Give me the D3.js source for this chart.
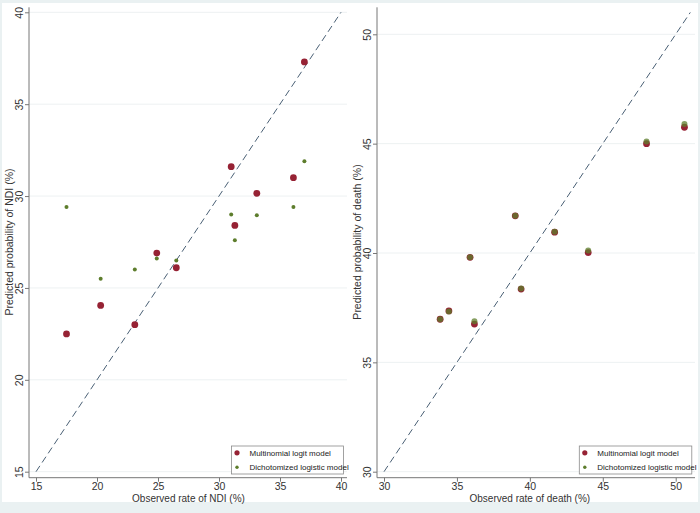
<!DOCTYPE html>
<html>
<head>
<meta charset="utf-8">
<script src="https://cdn.jsdelivr.net/npm/d3@7"></script>
<style>
  body { margin: 0; background: #eaf1f2; }
  svg { display: block; font-family: "Liberation Sans", Arial, sans-serif; }
</style>
</head>
<body>
<svg id="chart" width="700" height="513"></svg>
<script>
// observed vs predicted, NDI panel
var ndiObserved = [17.5, 20.3, 23.1, 24.9, 26.5, 31.0, 31.3, 33.1, 36.1, 37.0];
var ndiMultinomial = [22.5, 24.05, 23.0, 26.9, 26.1, 31.6, 28.4, 30.15, 31.0, 37.3];
var ndiDichotomized = [29.4, 25.5, 26.0, 26.6, 26.5, 29.0, 27.6, 28.95, 29.4, 31.9];
var ndiTicks = [15, 20, 25, 30, 35, 40];

// death panel
var deathObserved = [33.85, 34.45, 35.9, 36.2, 39.0, 39.4, 41.7, 44.0, 48.0, 50.6];
var deathMultinomial = [36.97, 37.35, 39.8, 36.75, 41.7, 38.35, 40.95, 40.02, 45.0, 45.75];
var deathDichotomized = [36.97, 37.32, 39.8, 36.88, 41.7, 38.38, 40.97, 40.12, 45.1, 45.9];
var deathTicks = [30, 35, 40, 45, 50];

var seriesNames = ["Multinomial logit model", "Dichotomized logistic model"];
var red = "#962234", green = "#5d7d2c";

var svg = d3.select("#chart");

svg.append("rect")
    .attr("x", 2).attr("y", 3).attr("width", 696).attr("height", 499)
    .attr("fill", "#fff");

function drawPanel(p) {
    var g = svg.append("g");
    var x = d3.scaleLinear().domain(p.xDomain).range(p.xRange);
    var y = d3.scaleLinear().domain(p.yDomain).range(p.yRange);
    var x0 = p.xRange[0] - 7, yBase = 477.7;

    // gridlines
    g.selectAll(".grid").data(p.ticks).enter().append("line")
        .attr("x1", x0).attr("x2", p.right)
        .attr("y1", function (d) { return y(d); })
        .attr("y2", function (d) { return y(d); })
        .attr("stroke", "#edf1f2").attr("stroke-width", 1);

    // y axis, labels rotated like stata does
    var yAxis = g.append("g").attr("transform", "translate(" + x0 + ",0)")
        .call(d3.axisLeft(y).tickValues(p.ticks).tickSize(4).tickSizeOuter(0));
    yAxis.select(".domain").remove();
    yAxis.selectAll(".tick line").attr("stroke", "#777");
    yAxis.selectAll(".tick text")
        .attr("font-size", 10.5).attr("fill", "#333").attr("font-family", null)
        .attr("x", 0).attr("y", 0).attr("dy", "0").attr("text-anchor", "middle")
        .attr("transform", "translate(-6,0) rotate(-90)");
    g.append("line").attr("x1", x0).attr("x2", x0).attr("y1", 7.3).attr("y2", yBase)
        .attr("stroke", "#777");

    // x axis
    var xAxis = g.append("g").attr("transform", "translate(0," + yBase + ")")
        .call(d3.axisBottom(x).tickValues(p.ticks).tickSize(4).tickSizeOuter(0));
    xAxis.select(".domain").remove();
    xAxis.selectAll(".tick line").attr("stroke", "#777");
    xAxis.selectAll(".tick text").attr("font-size", 10.5).attr("fill", "#333")
        .attr("font-family", null).attr("dy", "0").attr("y", 12.5);
    g.append("line").attr("x1", x0).attr("x2", p.right).attr("y1", yBase).attr("y2", yBase)
        .attr("stroke", "#777");

    // titles
    g.append("text").attr("x", (p.xRange[0] + p.xRange[1]) / 2).attr("y", 502)
        .attr("text-anchor", "middle").attr("font-size", 10).attr("fill", "#333")
        .text(p.xTitle);
    g.append("text")
        .attr("transform", "translate(" + (x0 - 16) + ",242) rotate(-90)")
        .attr("text-anchor", "middle").attr("font-size", 10.5).attr("fill", "#333")
        .text(p.yTitle);

    // 45 degree reference line
    g.append("line")
        .attr("x1", x(p.xDomain[0])).attr("y1", y(p.xDomain[0]))
        .attr("x2", x(p.diagEnd)).attr("y2", y(p.diagEnd))
        .attr("stroke", "#4a6075").attr("stroke-width", 1)
        .attr("stroke-dasharray", "7,4");

    // points
    g.selectAll(".m").data(p.obs).enter().append("circle")
        .attr("cx", function (d) { return x(d); })
        .attr("cy", function (d, i) { return y(p.multi[i]); })
        .attr("r", 3.4).attr("fill", red);
    g.selectAll(".d").data(p.obs).enter().append("circle")
        .attr("cx", function (d) { return x(d); })
        .attr("cy", function (d, i) { return y(p.dich[i]); })
        .attr("r", p.dichR).attr("fill", green).attr("fill-opacity", p.dichOpacity);

    // legend
    var lg = g.append("g").attr("transform", "translate(" + p.legendX + ",446)");
    lg.append("rect").attr("width", p.legendW).attr("height", 28)
        .attr("fill", "#fff").attr("stroke", "#8a8a8a").attr("stroke-width", 0.8);
    lg.append("circle").attr("cx", 5.5).attr("cy", 6.8).attr("r", 2.6).attr("fill", red);
    lg.append("circle").attr("cx", 5.5).attr("cy", 21.3).attr("r", 1.7).attr("fill", green);
    lg.selectAll("text").data(seriesNames).enter().append("text")
        .attr("x", 18).attr("y", function (d, i) { return 9.8 + i * 14.5; })
        .attr("font-size", 8).attr("fill", "#222")
        .text(function (d) { return d; });
}

drawPanel({
    xDomain: [15, 40], xRange: [36, 341], yDomain: [15, 40], yRange: [471.7, 12.3],
    right: 347, ticks: ndiTicks, diagEnd: 40,
    obs: ndiObserved, multi: ndiMultinomial, dich: ndiDichotomized,
    dichR: 2, dichOpacity: 1,
    xTitle: "Observed rate of NDI (%)", yTitle: "Predicted probability of NDI (%)",
    legendX: 231.5, legendW: 112
});

drawPanel({
    xDomain: [30, 50], xRange: [384, 675.7], yDomain: [30, 50], yRange: [471.7, 34.3],
    right: 695, ticks: deathTicks, diagEnd: 51,
    obs: deathObserved, multi: deathMultinomial, dich: deathDichotomized,
    dichR: 3, dichOpacity: 0.75,
    xTitle: "Observed rate of death (%)", yTitle: "Predicted probability of death (%)",
    legendX: 579.3, legendW: 112.5
});
</script>
</body>
</html>
